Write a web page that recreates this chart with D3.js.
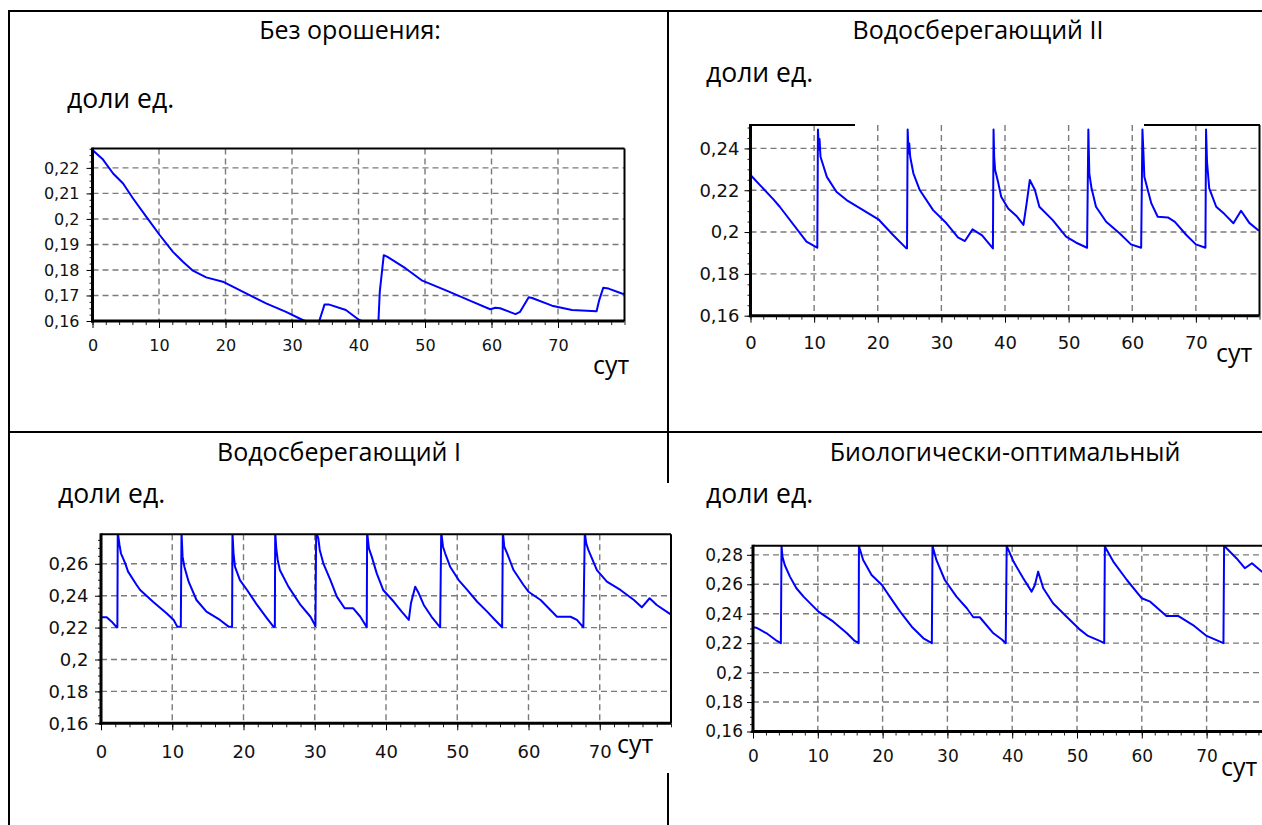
<!DOCTYPE html>
<html lang="ru">
<head>
<meta charset="utf-8">
<title>Влажность почвы по режимам орошения</title>
<script src="https://cdn.jsdelivr.net/npm/d3@7"></script>
<style>
  html, body { margin: 0; padding: 0; background: #fff; }
  svg { display: block; }
  .caption { font-family: "Open Sans", sans-serif; font-size: 25px; fill: #000; }
  .caption.unit { font-size: 26.5px; }
  .tick text { font-family: "DejaVu Sans", sans-serif; fill: #111; }
</style>
</head>
<body>
<svg id="chart" width="1262" height="825"></svg>
<script>
// Day ticks shared by every panel
const dayTicks = [0, 10, 20, 30, 40, 50, 60, 70];

// Panel titles
const titles = ["Без орошения:", "Водосберегающий II", "Водосберегающий I", "Биологически-оптимальный"];
const unitLabel = "доли ед.";
const dayLabel = "сут";

// Y tick values for each panel
const yTicksDry = [0.16, 0.17, 0.18, 0.19, 0.20, 0.21, 0.22];
const yTicksSaving2 = [0.16, 0.18, 0.20, 0.22, 0.24];
const yTicksSaving1 = [0.16, 0.18, 0.20, 0.22, 0.24, 0.26];
const yTicksOptimal = [0.16, 0.18, 0.20, 0.22, 0.24, 0.26, 0.28];

// Soil moisture, [day, fraction] — no irrigation
const noIrrigation = [
  [0, 0.227], [1.5, 0.2235], [3.1, 0.2178], [4.6, 0.2139], [6.1, 0.208], [8.1, 0.2008],
  [10.1, 0.1937], [12.1, 0.1871], [13.6, 0.1832], [15.1, 0.1797], [17.1, 0.1771],
  [19.6, 0.1754], [23.1, 0.1708], [26.1, 0.1669], [29.1, 0.1636], [31.6, 0.1604],
  [32, 0.16], [34.1, 0.16], [34.9, 0.1665], [35.5, 0.1665], [38.1, 0.1643], [40.1, 0.1604],
  [40.5, 0.16], [43, 0.16], [43.2, 0.1715], [43.5, 0.1787], [43.8, 0.1858], [44.3, 0.1852],
  [47.1, 0.1806], [49.6, 0.1758], [53.6, 0.1715], [57.1, 0.1676], [59.8, 0.1646],
  [60.6, 0.1652], [61.3, 0.165], [63.6, 0.1627], [64.3, 0.1636], [65.6, 0.1693],
  [66.1, 0.169], [69.1, 0.166], [72.1, 0.1643], [75.8, 0.1638], [76.2, 0.1682],
  [76.8, 0.173], [77.6, 0.1727], [79.6, 0.1708], [80, 0.1706]
];

// Water-saving regime II
const waterSaving2 = [
  [0, 0.2273], [3.6, 0.2156], [4.6, 0.2121], [8.8, 0.1954], [10.4, 0.1927], [10.5, 0.1925],
  [10.6, 0.249], [10.75, 0.2395], [10.85, 0.2445], [11.0, 0.236], [12, 0.2264], [13.5, 0.2193],
  [15.1, 0.2153], [17.7, 0.2105], [20.1, 0.2061], [22.4, 0.1986], [24.5, 0.1922], [24.6, 0.1922],
  [24.7, 0.249], [24.85, 0.2376], [24.95, 0.2424], [25.1, 0.236], [25.6, 0.2281], [26.6, 0.2201],
  [28.7, 0.2105], [30.8, 0.2042], [32.6, 0.1975], [33.7, 0.1957], [34.9, 0.2013], [36.4, 0.1984],
  [38.1, 0.1922], [38.2, 0.249], [38.3, 0.236], [38.45, 0.2297], [38.9, 0.2241], [39.4, 0.2169],
  [40.5, 0.2113], [41.8, 0.2077], [42.9, 0.2034], [43.4, 0.2137], [43.9, 0.2249], [44.7, 0.2201],
  [45.4, 0.2121], [47.5, 0.2057], [49.6, 0.1978], [51.2, 0.1949], [52.9, 0.1925],
  [53.1, 0.249], [53.25, 0.2281], [53.6, 0.2209], [54.3, 0.2121], [55.9, 0.2049], [58, 0.1994],
  [59.8, 0.1941], [61.4, 0.1925], [61.6, 0.249], [61.75, 0.2384], [61.9, 0.2264], [63, 0.2137],
  [64, 0.2073], [65.6, 0.207], [66.7, 0.2049], [68.5, 0.1986], [70, 0.1941], [71.5, 0.1925],
  [71.6, 0.249], [71.75, 0.2336], [72.1, 0.2209], [73.2, 0.2121], [74.5, 0.2086], [75.9, 0.2042],
  [77.1, 0.2102], [78.4, 0.2044], [79.9, 0.2006]
];

// Water-saving regime I
const waterSaving1 = [
  [0, 0.2265], [0.8, 0.2265], [1.5, 0.2237], [2.2, 0.2202], [2.3, 0.2202],
  [2.35, 0.28], [2.6, 0.2718], [2.8, 0.2666], [3.4, 0.2603], [3.8, 0.2551], [5, 0.2467],
  [5.5, 0.2436], [7.3, 0.2362], [9.2, 0.229], [10.2, 0.2248], [10.7, 0.2206], [11.2, 0.2206],
  [11.3, 0.28], [11.45, 0.2645], [11.7, 0.2582], [12.3, 0.2488], [13.4, 0.2373], [14.8, 0.23],
  [16.7, 0.2248], [17.9, 0.2206], [18.4, 0.2206],
  [18.45, 0.28], [18.6, 0.2666], [18.8, 0.2582], [19.5, 0.2498], [20.5, 0.2436], [21.9, 0.2342],
  [23.3, 0.2258], [24.2, 0.2206], [24.4, 0.2206],
  [24.45, 0.28], [24.6, 0.2697], [24.8, 0.2624], [25.1, 0.2561], [26.3, 0.2457], [28, 0.2342],
  [29.4, 0.2268], [30.1, 0.221],
  [30.2, 0.28], [30.5, 0.276], [30.7, 0.2687], [31.2, 0.2603], [32.2, 0.2498], [33.1, 0.2394],
  [34.2, 0.2321], [35.4, 0.2321], [36.4, 0.2268], [37.3, 0.2202],
  [37.35, 0.28], [37.6, 0.2697], [38, 0.2645], [38.7, 0.254], [39.6, 0.2436], [41.1, 0.2362],
  [42.2, 0.23], [43.2, 0.2248], [43.5, 0.2352], [44.1, 0.2456], [44.6, 0.2415], [45.3, 0.2342],
  [46.4, 0.2268], [47.6, 0.2202],
  [47.75, 0.28], [48, 0.2707], [48.3, 0.2666], [49, 0.2582], [50.2, 0.2498], [51.4, 0.2436],
  [52.8, 0.2362], [54.2, 0.23], [55.3, 0.2248], [56.3, 0.2202],
  [56.4, 0.28], [56.6, 0.2707], [57, 0.2666], [57.9, 0.2561], [59.3, 0.2467], [60, 0.2425],
  [61.7, 0.2373], [64, 0.2268], [65.9, 0.2268], [66.8, 0.2248], [67.7, 0.2202],
  [67.9, 0.28], [68.1, 0.2728], [68.4, 0.2687], [69.6, 0.2561], [71, 0.2488], [72.9, 0.2436],
  [74.8, 0.2373], [75.9, 0.2327], [77, 0.2384], [78, 0.2342], [79.9, 0.2285]
];

// Biologically optimal regime
const bioOptimal = [
  [0, 0.2308], [0.5, 0.2305], [2.1, 0.2267], [3.7, 0.2215], [4.3, 0.22],
  [4.4, 0.2862], [4.55, 0.2787], [4.9, 0.2731], [5.7, 0.2652], [6.7, 0.2573], [7.8, 0.2516],
  [10.1, 0.2414], [12.4, 0.2346], [14.5, 0.2267], [15.7, 0.2215], [16.3, 0.22],
  [16.35, 0.2862], [16.45, 0.2845], [17, 0.2765], [18.3, 0.2663], [19.9, 0.2595], [21.1, 0.2516],
  [22.7, 0.2414], [24.5, 0.2312], [26.3, 0.2233], [27.6, 0.22],
  [27.7, 0.2862], [27.8, 0.2845], [28.3, 0.2765], [29.6, 0.2629], [31.4, 0.2516], [33, 0.2437],
  [34, 0.2376], [35, 0.2376], [37.1, 0.2267], [38.4, 0.2225], [39, 0.22],
  [39.15, 0.2862], [39.3, 0.2845], [40.2, 0.2754], [41.7, 0.2641], [43, 0.255], [43.5, 0.2595],
  [44, 0.2686], [44.8, 0.2573], [46.3, 0.2471], [48.4, 0.238], [50.5, 0.229], [51.7, 0.2249],
  [53.5, 0.2215], [54.2, 0.22],
  [54.3, 0.2862], [54.45, 0.2845], [55.6, 0.2754], [57.7, 0.2629], [60, 0.2505], [61.3, 0.2482],
  [63.8, 0.2385], [65.6, 0.2385], [67.9, 0.2323], [70, 0.2249], [71.8, 0.2215], [72.6, 0.22],
  [72.7, 0.2862], [72.85, 0.2855], [74.6, 0.2777], [75.9, 0.2709], [77, 0.2743], [78.5, 0.2686],
  [80, 0.2655]
];

// Placement of each panel on the page
const panels = [
  { title: titles[0], data: noIrrigation, yTicks: yTicksDry, yMax: 0.2276,
    left: 92.5, right: 624.5, top: 148.5, bottom: 321, tickFont: 16, yPad: 7,
    titleX: 350, titleY: 39, unitX: 67, unitY: 108, dayX: 593, dayY: 374, xLabelY: 351,
    topSegments: null },
  { title: titles[1], data: waterSaving2, yTicks: yTicksSaving2, yMax: 0.2512,
    left: 750.5, right: 1259.5, top: 125, bottom: 315.7, tickFont: 18, yPad: 5,
    titleX: 978, titleY: 39, unitX: 706, unitY: 82, dayX: 1216, dayY: 362, xLabelY: 349,
    topSegments: [[749, 855], [1144, 1260]] },
  { title: titles[2], data: waterSaving1, yTicks: yTicksSaving1, yMax: 0.2785,
    left: 101, right: 671, top: 534.3, bottom: 723.3, tickFont: 18, yPad: 6.5,
    titleX: 339, titleY: 461, unitX: 58, unitY: 503, dayX: 617, dayY: 753, xLabelY: 758,
    topSegments: null },
  { title: titles[3], data: bioOptimal, yTicks: yTicksOptimal, yMax: 0.2862,
    left: 753, right: 1271.4, top: 545.7, bottom: 731.5, tickFont: 17, yPad: 4,
    titleX: 1005, titleY: 461, unitX: 706, unitY: 503, dayX: 1221, dayY: 776, xLabelY: 762,
    topSegments: null }
];

const svg = d3.select("#chart");
svg.append("rect").attr("width", 1262).attr("height", 825).attr("fill", "#fff");

const fmt = v => d3.format(".2~f")(v).replace(".", ",");

panels.forEach((p, i) => {
  const x = d3.scaleLinear().domain([0, 80]).range([p.left, p.right]);
  const y = d3.scaleLinear().domain([0.16, p.yMax]).range([p.bottom, p.top]);
  const g = svg.append("g").attr("class", "panel");

  // captions
  g.append("text").attr("class", "caption").attr("x", p.titleX).attr("y", p.titleY)
    .attr("text-anchor", "middle").text(p.title);
  g.append("text").attr("class", "caption unit").attr("x", p.unitX).attr("y", p.unitY).text(unitLabel);

  // dashed grid
  const grid = g.append("g").attr("stroke", "#7a7a7a").attr("stroke-width", 1.4)
    .attr("stroke-dasharray", "6,4").attr("fill", "none");
  grid.selectAll("line.v").data(dayTicks.filter(d => d > 0)).join("line")
    .attr("x1", d => x(d)).attr("x2", d => x(d)).attr("y1", p.top).attr("y2", p.bottom);
  grid.selectAll("line.h").data(p.yTicks.filter(d => d > 0.16)).join("line")
    .attr("x1", p.left).attr("x2", p.right).attr("y1", d => y(d)).attr("y2", d => y(d));

  // moisture curve
  const clipId = "clip" + i;
  svg.append("clipPath").attr("id", clipId).append("rect")
    .attr("x", p.left).attr("y", p.top).attr("width", p.right - p.left).attr("height", p.bottom - p.top);
  const line = d3.line().x(d => x(d[0])).y(d => y(d[1]));
  g.append("path").datum(p.data).attr("clip-path", `url(#${clipId})`)
    .attr("d", line).attr("fill", "none").attr("stroke", "#0000ff")
    .attr("stroke-width", 2).attr("stroke-linejoin", "round");

  // minor ticks
  const yStep = p.yTicks[1] - p.yTicks[0];
  const yMinor = d3.range(0.16, p.yMax + 1e-9, yStep / 4);
  g.append("g").attr("transform", `translate(${p.left},0)`)
    .call(d3.axisLeft(y).tickValues(yMinor).tickSize(3).tickFormat(""))
    .call(a => a.select(".domain").remove())
    .selectAll("line").attr("stroke", "#222");
  g.append("g").attr("transform", `translate(0,${p.bottom})`)
    .call(d3.axisBottom(x).tickValues(d3.range(0, 81, 2)).tickSize(4).tickFormat(""))
    .call(a => a.select(".domain").remove())
    .selectAll("line").attr("stroke", "#222");

  // labelled axes
  const ya = g.append("g").attr("transform", `translate(${p.left},0)`)
    .call(d3.axisLeft(y).tickValues(p.yTicks).tickSize(6).tickPadding(p.yPad).tickFormat(fmt));
  ya.select(".domain").remove();
  ya.selectAll("text").style("font-size", p.tickFont + "px");
  const xa = g.append("g").attr("transform", `translate(0,${p.bottom})`)
    .call(d3.axisBottom(x).tickValues(dayTicks).tickSize(7).tickFormat(d3.format("d")));
  xa.select(".domain").remove();
  xa.selectAll("text").style("font-size", p.tickFont + "px")
    .attr("y", p.xLabelY - p.bottom).attr("dy", 0);

  // plot frame: thin top/right, heavy left/bottom
  const frame = g.append("g").attr("stroke", "#000").attr("fill", "none");
  if (p.topSegments) {
    p.topSegments.forEach(s => frame.append("line").attr("x1", s[0]).attr("x2", s[1])
      .attr("y1", p.top).attr("y2", p.top).attr("stroke-width", 2));
  } else {
    frame.append("line").attr("x1", p.left).attr("x2", p.right)
      .attr("y1", p.top).attr("y2", p.top).attr("stroke-width", 2);
  }
  frame.append("line").attr("x1", p.right).attr("x2", p.right)
    .attr("y1", p.top).attr("y2", p.bottom).attr("stroke-width", 2);
  frame.append("line").attr("x1", p.left).attr("x2", p.left)
    .attr("y1", p.top - 1).attr("y2", p.bottom + 1.5).attr("stroke-width", 3);
  frame.append("line").attr("x1", p.left - 1.5).attr("x2", p.right)
    .attr("y1", p.bottom).attr("y2", p.bottom).attr("stroke-width", 3);

  g.append("text").attr("class", "caption").attr("x", p.dayX).attr("y", p.dayY).text(dayLabel);
});

// table rules around the four panels
const rules = svg.append("g").attr("stroke", "#000").attr("stroke-width", 2);
[
  [8, 11, 1262, 11], [9, 11, 9, 825], [8, 432, 1262, 432],
  [668, 11, 668, 483], [668, 773, 668, 825]
].forEach(r => rules.append("line").attr("x1", r[0]).attr("y1", r[1]).attr("x2", r[2]).attr("y2", r[3]));
</script>
</body>
</html>
